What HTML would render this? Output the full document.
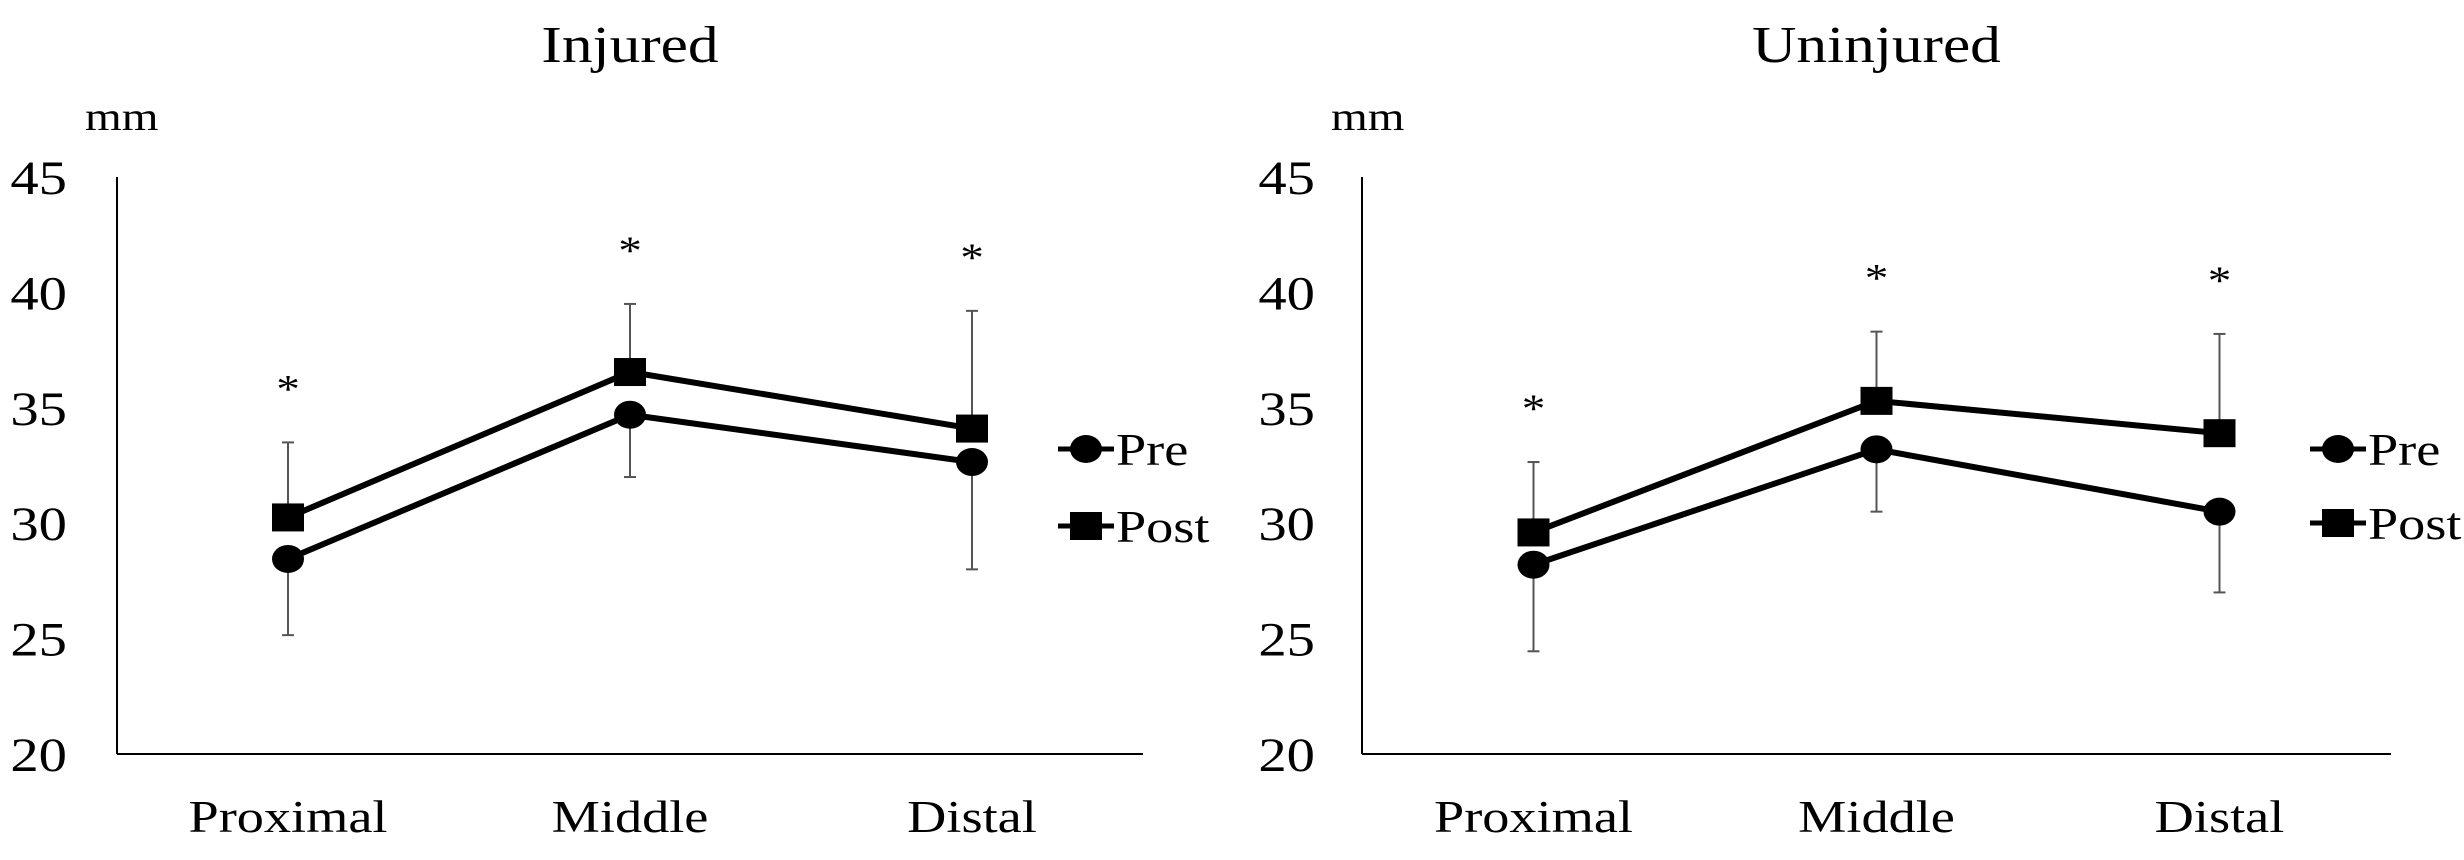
<!DOCTYPE html>
<html><head><meta charset="utf-8"><style>html,body{margin:0;padding:0;background:#fff;}svg{display:block;}</style></head>
<body>
<svg id="chart" width="2464" height="860" viewBox="0 0 2464 860" xmlns="http://www.w3.org/2000/svg"></svg>
<script>
const categories = ["Proximal", "Middle", "Distal"];
const yTicks = [20, 25, 30, 35, 40, 45];
const injuredPre = [28.45, 34.7, 32.65];
const injuredPost = [30.25, 36.55, 34.1];
const injuredPreErrLow = [25.15, 32.0, 28.0];
const injuredPostErrHigh = [33.5, 39.5, 39.2];
const uninjuredPre = [28.2, 33.2, 30.5];
const uninjuredPost = [29.6, 35.3, 33.9];
const uninjuredPreErrLow = [24.45, 30.5, 27.0];
const uninjuredPostErrHigh = [32.65, 38.3, 38.2];
const seriesNames = ["Pre", "Post"];

const NS = "http://www.w3.org/2000/svg";
const svgRoot = document.getElementById("chart");
const SX = 1.18;
const FONT = '"Liberation Serif", serif';

function mk(tag, attrs, parent) {
  const e = document.createElementNS(NS, tag);
  for (const k in attrs) e.setAttribute(k, attrs[k]);
  (parent || svgRoot).appendChild(e);
  return e;
}
function txt(str, x, y, size, anchor, g) {
  const t = mk("text", {x: 0, y: 0, transform: `translate(${x},${y}) scale(${SX},1)`, "font-family": FONT, "font-size": size, "text-anchor": anchor, fill: "#000"}, g);
  t.textContent = str;
  return t;
}

const panels = [
  {name: "injured", title: "Injured", left: 117, right: 1143, tickX: 67, mmX: 85, legX: 1086, legY: [449, 526], pre: injuredPre, post: injuredPost, lo: injuredPreErrLow, hi: injuredPostErrHigh},
  {name: "uninjured", title: "Uninjured", left: 1362, right: 2391, tickX: 1315, mmX: 1331, legX: 2338, legY: [449, 523], pre: uninjuredPre, post: uninjuredPost, lo: uninjuredPreErrLow, hi: uninjuredPostErrHigh}
];
const plotTop = 177, plotBottom = 754, yMin = 20, yMax = 45;
const yScale = v => plotBottom - (v - yMin) / (yMax - yMin) * (plotBottom - plotTop);

panels.forEach(p => {
  const g = mk("g", {});
  
  
  const bw = (p.right - p.left) / categories.length;
  const xScale = i => p.left + bw * (i + 0.5);
  const cx = (p.left + p.right) / 2;

  const title = txt(p.title, cx, 62, 52, "middle", g);
  
  
  const mm = txt("mm", p.mmX, 130, 40, "start", g);
  
  

  yTicks.forEach(v => {
    const t = txt(String(v), p.tickX, yScale(v) + 17, 48, "end", g);
    
    
  });
  const ya = mk("line", {x1: p.left, y1: plotTop, x2: p.left, y2: plotBottom, stroke: "#000", "stroke-width": 2}, g);
  
  
  const xa = mk("line", {x1: p.left, y1: plotBottom, x2: p.right, y2: plotBottom, stroke: "#000", "stroke-width": 2}, g);
  
  

  categories.forEach((c, i) => {
    const t = txt(c, xScale(i), 832, 46, "middle", g);
    
    
  });

  categories.forEach((c, i) => {
    const x = xScale(i);
    const e1 = mk("line", {x1: x, y1: yScale(p.post[i]), x2: x, y2: yScale(p.hi[i]), stroke: "#555", "stroke-width": 2}, g);
    
    
    mk("line", {x1: x - 6, y1: yScale(p.hi[i]), x2: x + 6, y2: yScale(p.hi[i]), stroke: "#555", "stroke-width": 2}, g);
    const e2 = mk("line", {x1: x, y1: yScale(p.pre[i]), x2: x, y2: yScale(p.lo[i]), stroke: "#555", "stroke-width": 2}, g);
    
    
    mk("line", {x1: x - 6, y1: yScale(p.lo[i]), x2: x + 6, y2: yScale(p.lo[i]), stroke: "#555", "stroke-width": 2}, g);
    const s = txt("*", x, yScale(p.hi[i]) - 40, 40, "middle", g);
    
    
  });

  [p.pre, p.post].forEach((vals, si) => {
    const pts = vals.map((v, i) => xScale(i) + "," + yScale(v)).join(" ");
    const line = mk("polyline", {points: pts, fill: "none", stroke: "#000", "stroke-width": 6, "stroke-linejoin": "miter"}, g);
    
    
    vals.forEach((v, i) => {
      let m;
      if (si === 0) m = mk("ellipse", {cx: xScale(i), cy: yScale(v), rx: 16, ry: 14, fill: "#000"}, g);
      else m = mk("rect", {x: xScale(i) - 16, y: yScale(v) - 14, width: 32, height: 28, fill: "#000"}, g);
      
      
    });
    const ly = p.legY[si];
    const lg = mk("g", {}, g);
    
    
    mk("line", {x1: p.legX - 28, y1: ly, x2: p.legX + 28, y2: ly, stroke: "#000", "stroke-width": 5}, lg);
    if (si === 0) mk("ellipse", {cx: p.legX, cy: ly, rx: 16, ry: 14, fill: "#000"}, lg);
    else mk("rect", {x: p.legX - 16, y: ly - 14, width: 32, height: 28, fill: "#000"}, lg);
    txt(seriesNames[si], p.legX + 30, ly + 16, 46, "start", lg);
  });
});
</script>
</body></html>
